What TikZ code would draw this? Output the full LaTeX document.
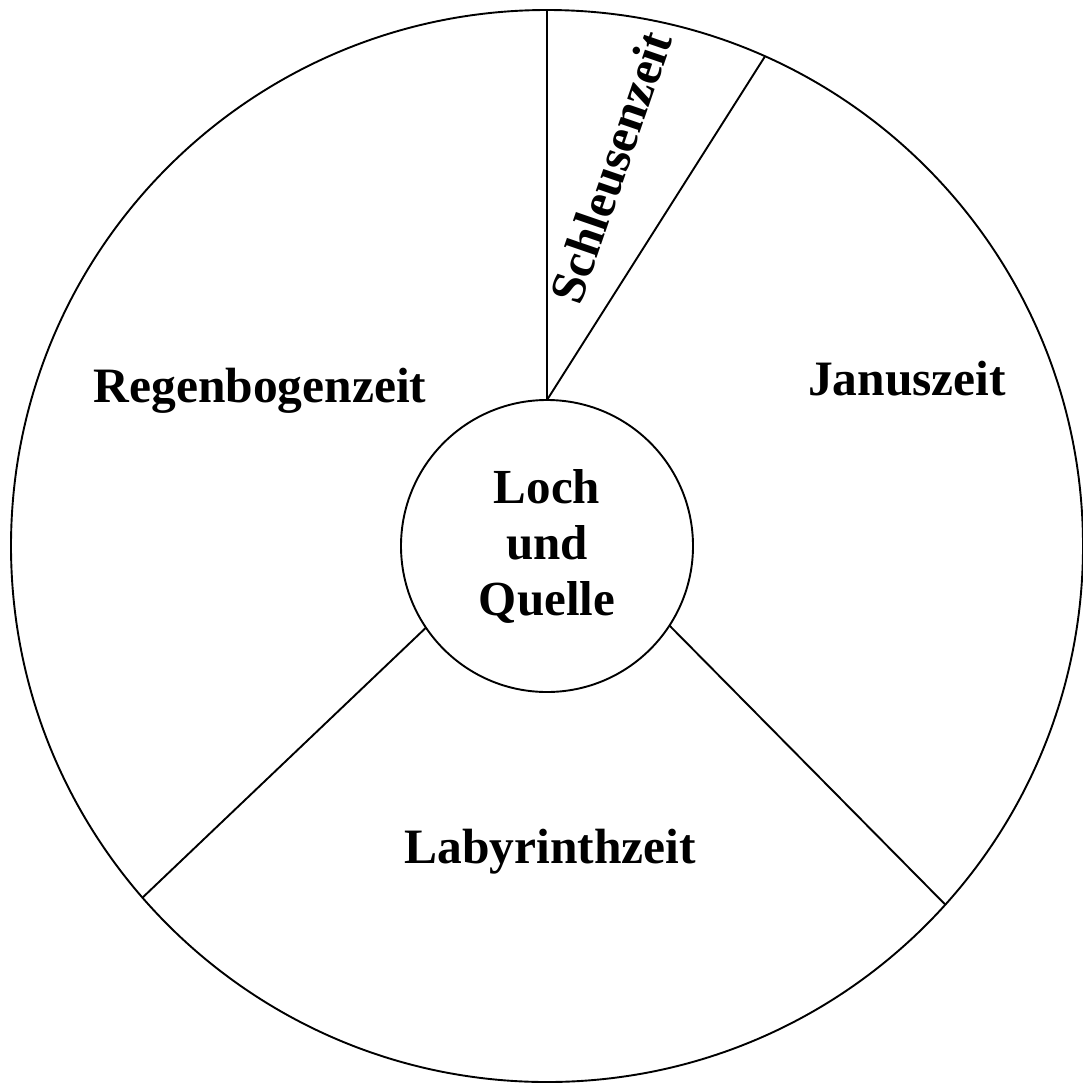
\documentclass[tikz,border=0pt]{standalone}
\usepackage{fontspec}
\setmainfont{Liberation Serif}
\begin{document}
\begin{tikzpicture}[x=1pt,y=-1pt,
  ring/.style={circle,draw,line width=1.9pt,inner sep=0pt,outer sep=0pt},
  divider/.style={line width=1.9pt},
  bigtext/.style={font=\fontsize{49.5}{56}\selectfont\bfseries,inner sep=0pt},
  era/.style={bigtext,anchor=base}]
  \useasboundingbox (0,0) rectangle (1083,1082);
  \clip (0,0) rectangle (1083,1082);
  % outer wheel and central hub
  \node[ring,minimum size=1072pt] (rim) at (547,546) {};
  \node[ring,minimum size=292pt,align=center,
        font=\fontsize{49}{56}\selectfont\bfseries] (hub) at (547,546) {Loch\\und\\Quelle};
  % dividing spokes
  \draw[divider] (hub.90) -- (rim.90);
  \draw[divider] (hub.90) -- (rim.66.8);
  \draw[divider] (hub.214.2) -- (rim.221.4);
  \draw[divider] (hub.327.3) -- (rim.318.8);
  % sector names
  \node[era] (regen) at (260,402) {Regenbogenzeit};
  \node[era] (janus) at (907,395) {Januszeit};
  \node[era] (laby) at (550,863) {Labyrinthzeit};
  \node[bigtext,rotate=71] (schleuse) at (611,167) {Schleusenzeit};
\end{tikzpicture}
\end{document}
